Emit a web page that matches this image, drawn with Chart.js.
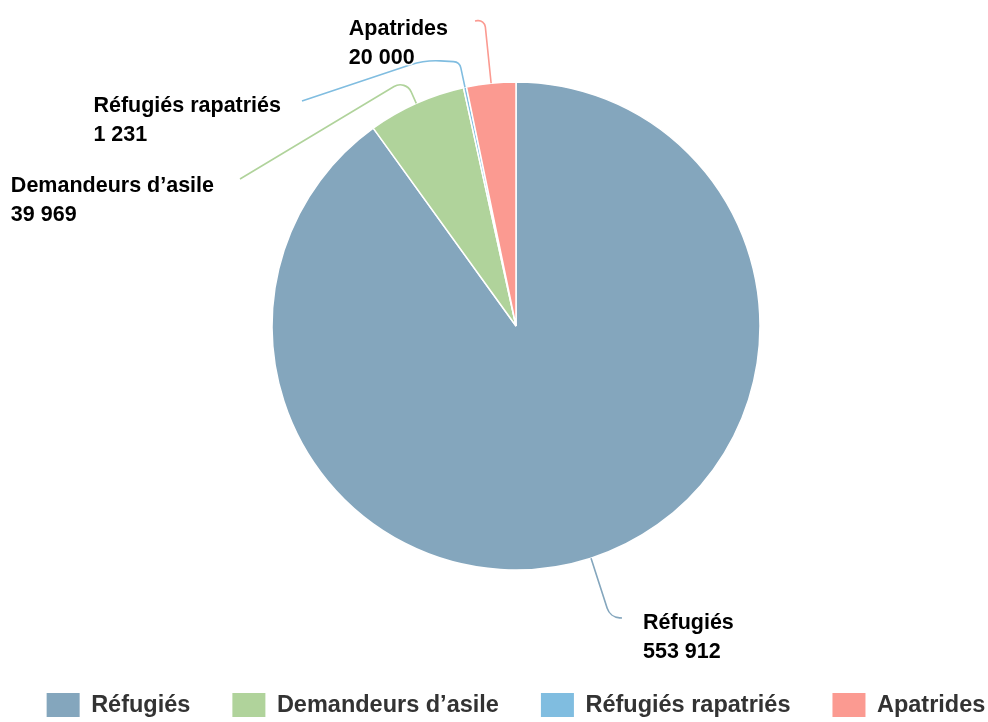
<!DOCTYPE html>
<html lang="fr">
<head>
<meta charset="utf-8">
<title>Réfugiés</title>
<script src="https://cdn.jsdelivr.net/npm/chart.js@4.4.1/dist/chart.umd.min.js"></script>
<style>
  html, body { margin: 0; padding: 0; background: #fff; overflow: hidden; }
  #wrap { position: absolute; left: 0; top: 0; width: 988px; height: 722px; }
</style>
</head>
<body>
<div id="wrap"><canvas id="pie"></canvas></div>
<script>
// data
const categories = ["Réfugiés", "Demandeurs d’asile", "Réfugiés rapatriés", "Apatrides"];
const values = [553912, 39969, 1231, 20000];
const colors = ["#84a6bd", "#b0d39b", "#80bde0", "#fb9a91"];

// where each outside label sits, relative to the pie centre
const labelLayout = [
  { ext: 62, bend: null, end: [106, 292], r: [14], text: [21, 11], side: "right" },
  { ext: 26, bend: null, end: [-276, -147], r: [12], text: [-26, 13], side: "left" },
  { ext: 26, bend: [-91, -266], end: [-214, -225], r: [8, 80], text: [-21, 11], side: "left" },
  { ext: 64, bend: null, end: [-41, -305], r: [7], text: [-27, 14], side: "left" }
];

const FONT = '"Liberation Sans", Arial, sans-serif';

function formatNumber(v) {
  return String(v).replace(/\B(?=(\d{3})+(?!\d))/g, " ");
}

const outsideLabels = {
  id: "outsideLabels",
  afterDatasetsDraw(chart) {
    const ctx = chart.ctx;
    const meta = chart.getDatasetMeta(0);
    meta.data.forEach((arc, i) => {
      const L = labelLayout[i];
      const p = arc.getProps(["x", "y", "startAngle", "endAngle", "outerRadius"], true);
      const mid = (p.startAngle + p.endAngle) / 2;
      const pts = [
        [p.x + Math.cos(mid) * p.outerRadius, p.y + Math.sin(mid) * p.outerRadius],
        [p.x + Math.cos(mid) * (p.outerRadius + L.ext), p.y + Math.sin(mid) * (p.outerRadius + L.ext)]
      ];
      if (L.bend) pts.push([p.x + L.bend[0], p.y + L.bend[1]]);
      const end = [p.x + L.end[0], p.y + L.end[1]];
      pts.push(end);

      ctx.save();
      ctx.strokeStyle = colors[i];
      ctx.lineWidth = 1.6;
      ctx.beginPath();
      ctx.moveTo(pts[0][0], pts[0][1]);
      for (let k = 1; k < pts.length - 1; k++) {
        ctx.arcTo(pts[k][0], pts[k][1], pts[k + 1][0], pts[k + 1][1], L.r[k - 1]);
      }
      ctx.lineTo(end[0], end[1]);
      ctx.stroke();

      // label block, lines left aligned, with a white halo
      ctx.font = "bold 21.5px " + FONT;
      ctx.textAlign = "left";
      ctx.textBaseline = "alphabetic";
      ctx.lineJoin = "round";
      const lines = [categories[i], formatNumber(values[i])];
      const blockW = Math.max(...lines.map((t) => ctx.measureText(t).width));
      let tx = end[0] + L.text[0];
      if (L.side === "left") tx -= blockW;
      const ty = end[1] + L.text[1];
      lines.forEach((t, j) => {
        ctx.strokeStyle = "rgba(255,255,255,0.9)";
        ctx.lineWidth = 3;
        ctx.strokeText(t, tx, ty + j * 28.5);
        ctx.fillStyle = "#000";
        ctx.fillText(t, tx, ty + j * 28.5);
      });
      ctx.restore();
    });
  }
};

// legend along the bottom, centred under the pie
const bottomLegend = {
  id: "bottomLegend",
  afterDraw(chart) {
    const ctx = chart.ctx;
    const boxW = 33, boxH = 24, gapText = 11.5, gapItem = 42;
    ctx.save();
    ctx.font = "bold 23.5px " + FONT;
    const widths = categories.map((c) => boxW + gapText + ctx.measureText(c).width);
    const total = widths.reduce((a, b) => a + b, 0) + gapItem * (categories.length - 1);
    const cx = (chart.chartArea.left + chart.chartArea.right) / 2;
    let x = cx - total / 2;
    const top = 693;
    ctx.textBaseline = "middle";
    ctx.textAlign = "left";
    categories.forEach((c, i) => {
      ctx.fillStyle = colors[i];
      ctx.fillRect(x, top, boxW, boxH);
      ctx.fillStyle = "#333";
      ctx.fillText(c, x + boxW + gapText, top + boxH / 2 + 1);
      x += widths[i] + gapItem;
    });
    ctx.restore();
  }
};

new Chart(document.getElementById("pie"), {
  type: "pie",
  data: {
    labels: categories,
    datasets: [{
      data: values,
      backgroundColor: colors,
      borderColor: "#fff",
      borderWidth: 1.5
    }]
  },
  options: {
    responsive: true,
    maintainAspectRatio: false,
    animation: false,
    radius: 244,
    events: [],
    layout: { padding: { left: 44, top: 0, right: 0, bottom: 70 } },
    plugins: {
      legend: { display: false },
      tooltip: { enabled: false }
    }
  },
  plugins: [outsideLabels, bottomLegend]
});
</script>
</body>
</html>
